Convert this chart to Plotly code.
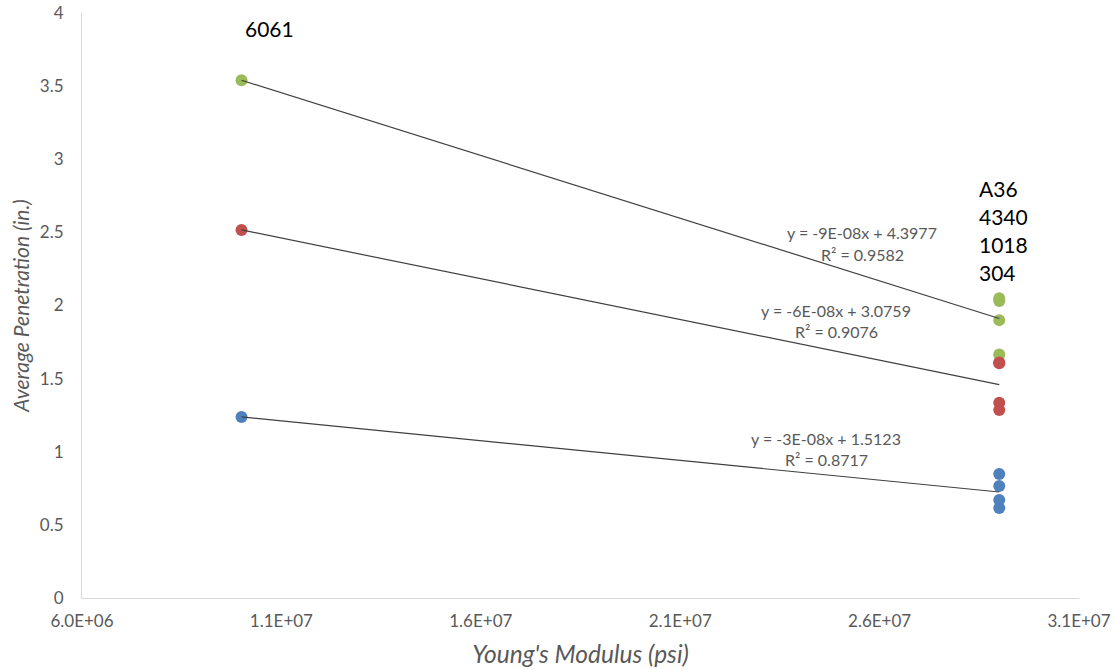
import numpy as np
import plotly.graph_objects as go

# Young's modulus (psi) for each material
x_6061 = 1.0e7
x_steel = 2.9e7

# Average penetration (in.) per series: [6061, A36, 4340, 1018, 304]
series_names = ["Series 1", "Series 2", "Series 3"]
green_vals = [3.54, 2.05, 2.03, 1.90, 1.665]
red_vals = [2.517, 1.61, 1.605, 1.335, 1.285]
blue_vals = [1.238, 0.848, 0.766, 0.670, 0.615]
series_colors = ["#9BBB59", "#C0504D", "#4F81BD"]

x_vals = [x_6061, x_steel, x_steel, x_steel, x_steel]

eq_texts = [
    ("y = -9E-08x + 4.3977", "R² = 0.9582"),
    ("y = -6E-08x + 3.0759", "R² = 0.9076"),
    ("y = -3E-08x + 1.5123", "R² = 0.8717"),
]
material_6061 = "6061"
steel_labels = ["A36", "4340", "1018", "304"]

x_ticks = [6e6, 1.1e7, 1.6e7, 2.1e7, 2.6e7, 3.1e7]
x_ticktext = ["6.0E+06", "1.1E+07", "1.6E+07", "2.1E+07", "2.6E+07", "3.1E+07"]
y_ticks = [0, 0.5, 1, 1.5, 2, 2.5, 3, 3.5, 4]
y_ticktext = ["0", "0.5", "1", "1.5", "2", "2.5", "3", "3.5", "4"]

FONT = "Lato, 'Open Sans', sans-serif"
GREY = "#595959"

fig = go.Figure()

all_series = [green_vals, red_vals, blue_vals]
for name, vals, col in zip(series_names, all_series, series_colors):
    fig.add_trace(go.Scatter(
        x=x_vals, y=vals, mode="markers", name=name,
        marker=dict(color=col, size=12, line=dict(width=0)),
        showlegend=False,
    ))

# linear trendlines
for vals in all_series:
    m, b = np.polyfit(x_vals, vals, 1)
    xs = np.array([min(x_vals), max(x_vals)])
    fig.add_trace(go.Scatter(
        x=xs, y=m * xs + b, mode="lines",
        line=dict(color="#404040", width=1.2),
        showlegend=False, hoverinfo="skip",
    ))

annotations = []
# equation labels: positions (x, y_eq, y_r2)
eq_pos = [(2.556e7, 2.496, 2.352), (2.491e7, 1.969, 1.819), (2.466e7, 1.094, 0.944)]
for (eq, r2), (ex, ey, ry) in zip(eq_texts, eq_pos):
    annotations.append(dict(x=ex, y=ey, text=eq, showarrow=False,
                            xanchor="center", yanchor="middle",
                            font=dict(family=FONT, size=16, color=GREY)))
    annotations.append(dict(x=ex, y=ry, text=r2, showarrow=False,
                            xanchor="center", yanchor="middle",
                            font=dict(family=FONT, size=16, color=GREY)))

annotations.append(dict(x=1.0714e7, y=3.897, text=material_6061, showarrow=False,
                        xanchor="center", yanchor="middle",
                        font=dict(family=FONT, size=21, color="#000000")))
for i, lab in enumerate(steel_labels):
    annotations.append(dict(x=2.844e7, y=(598 - (188 + 28 * i)) / 146.25, text=lab,
                            showarrow=False, xanchor="left", yanchor="middle",
                            font=dict(family=FONT, size=21, color="#000000")))

fig.update_layout(
    width=1117, height=670,
    margin=dict(l=82, r=38, t=13, b=72),
    paper_bgcolor="white", plot_bgcolor="white",
    annotations=annotations,
    font=dict(family=FONT, color=GREY),
    xaxis=dict(
        range=[6e6, 3.1e7], tickvals=x_ticks, ticktext=x_ticktext,
        showgrid=False, zeroline=False, showline=True, linecolor="#D9D9D9",
        linewidth=1, ticks="", automargin=False, ticklabelstandoff=8,
        ticklabeloverflow="allow",
        tickfont=dict(family=FONT, size=17, color=GREY),
        title=dict(text="<i>Young's Modulus (psi)</i>", standoff=15,
                   font=dict(family=FONT, size=24.5, color=GREY)),
    ),
    yaxis=dict(
        range=[0, 4], tickvals=y_ticks, ticktext=y_ticktext,
        showgrid=False, zeroline=False, showline=True, linecolor="#D9D9D9",
        linewidth=1, ticks="", ticklabelstandoff=14, automargin=False,
        ticklabeloverflow="allow",
        tickfont=dict(family=FONT, size=17, color=GREY),
        title=dict(text="<i>Average Penetration (in.)</i>", standoff=4,
                   font=dict(family=FONT, size=21, color=GREY)),
    ),
)

fig.write_html(
    "out.html",
    config={"displayModeBar": False},
    post_script="document.body.style.margin='0';document.body.style.overflow='hidden';",
)
